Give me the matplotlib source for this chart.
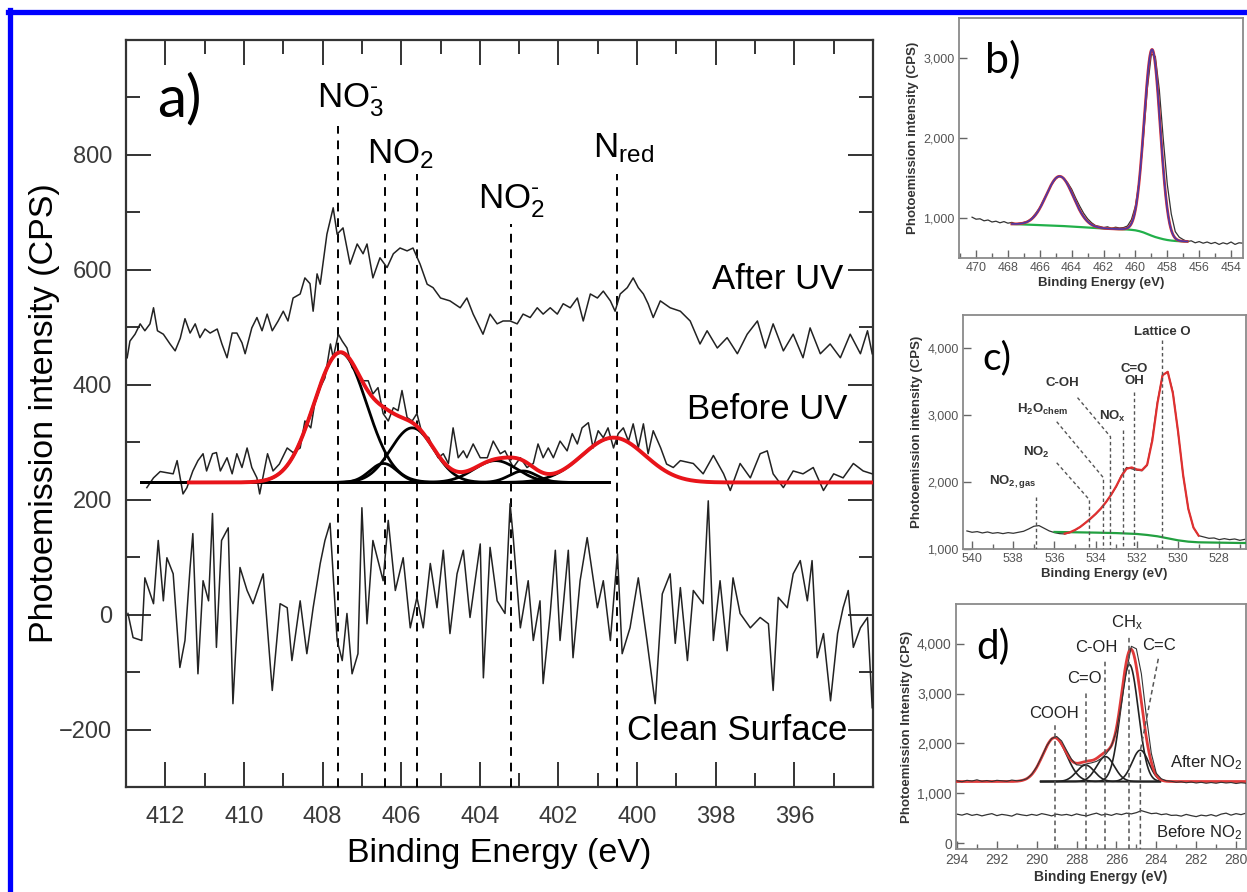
import numpy as np
import matplotlib
matplotlib.use("Agg")
import matplotlib.pyplot as plt
from matplotlib.lines import Line2D
from matplotlib.ticker import MultipleLocator, FuncFormatter

plt.rcParams['font.family'] = ['Liberation Sans', 'DejaVu Sans']
plt.rcParams['mathtext.default'] = 'regular'

W, H = 1247, 892

# ---------------- Panel a: N 1s ----------------
after_uv_e = [412.97, 412.9, 412.77, 412.64, 412.52, 412.39, 412.3, 412.2, 412.05, 411.88,
              411.75, 411.62, 411.5, 411.37, 411.24, 411.12, 410.99, 410.86, 410.68, 410.56,
              410.43, 410.3, 410.18, 410.05, 409.97, 409.8, 409.67, 409.54, 409.41, 409.28,
              409.13, 409.0, 408.88, 408.75, 408.57, 408.45, 408.32, 408.24, 408.14, 408.06,
              407.89, 407.73, 407.63, 407.48, 407.3, 407.12, 406.97, 406.87, 406.72, 406.54,
              406.36, 406.2, 406.03, 405.85, 405.7, 405.52, 405.34, 405.19, 405.0, 404.76,
              404.5, 404.33, 404.17, 403.92, 403.74, 403.56, 403.41, 403.23, 403.05, 402.9,
              402.72, 402.54, 402.39, 402.21, 402.03, 401.88, 401.7, 401.52, 401.37, 401.19,
              401.01, 400.86, 400.68, 400.56, 400.43, 400.25, 400.1, 399.97, 399.84, 399.72,
              399.59, 399.41, 399.16, 398.9, 398.65, 398.4, 398.22, 397.96, 397.71, 397.45,
              397.2, 396.94, 396.74, 396.54, 396.28, 396.03, 395.78, 395.6, 395.34, 395.09,
              394.83, 394.58, 394.32, 394.14, 394.02]
after_uv_i = [447, 476, 488, 506, 494, 506, 534, 494, 488, 471,
              459, 481, 515, 490, 506, 482, 497, 490, 497, 471,
              447, 490, 490, 473, 454, 499, 517, 494, 523, 494,
              511, 528, 511, 551, 558, 586, 576, 528, 593, 575,
              662, 708, 662, 673, 610, 645, 628, 645, 586, 621,
              604, 628, 638, 633, 638, 610, 575, 569, 551, 546,
              534, 551, 523, 488, 523, 506, 511, 511, 506, 523,
              517, 534, 523, 534, 523, 541, 534, 551, 511, 558,
              551, 563, 546, 528, 558, 569, 586, 569, 558, 541,
              517, 546, 534, 528, 511, 471, 494, 464, 482, 454,
              488, 511, 464, 506, 459, 488, 447, 499, 454, 471,
              447, 488, 454, 494, 454]

before_uv_e = [412.47, 412.3, 412.13, 411.8, 411.7, 411.55, 411.45, 411.3, 411.17, 411.04,
               410.95, 410.8, 410.7, 410.6, 410.43, 410.3, 410.18, 410.05, 409.92, 409.8,
               409.67, 409.6, 409.4, 409.26, 409.1, 408.9, 408.75, 408.57, 408.45, 408.3,
               408.2, 408.06, 407.94, 407.8, 407.73, 407.6, 407.5, 407.38, 407.25, 407.1,
               406.97, 406.84, 406.72, 406.59, 406.46, 406.33, 406.2, 406.08, 405.98, 405.85,
               405.72, 405.6, 405.47, 405.3, 405.19, 405.06, 404.93, 404.8, 404.68, 404.55,
               404.42, 404.33, 404.17, 403.99, 403.81, 403.66, 403.48, 403.36, 403.15, 402.97,
               402.8, 402.64, 402.52, 402.39, 402.26, 402.13, 401.96, 401.78, 401.65, 401.52,
               401.4, 401.24, 401.12, 400.99, 400.86, 400.74, 400.6, 400.48, 400.35, 400.22,
               400.1, 399.97, 399.84, 399.72, 399.59, 399.4, 399.25, 399.08, 398.9, 398.57,
               398.32, 398.06, 397.8, 397.63, 397.38, 397.12, 396.87, 396.69, 396.54, 396.28,
               396.03, 395.78, 395.52, 395.26, 395.0, 394.76, 394.5, 394.25, 394.02]
before_uv_i = [221, 238, 249, 245, 268, 210, 221, 250, 268, 280,
               250, 280, 282, 250, 273, 245, 280, 256, 290, 256,
               238, 210, 280, 250, 262, 290, 282, 290, 337, 325,
               367, 395, 412, 471, 447, 488, 476, 464, 430, 419,
               407, 407, 384, 395, 350, 337, 360, 355, 390, 343,
               337, 350, 315, 308, 290, 273, 280, 263, 325, 273,
               285, 273, 297, 273, 273, 302, 280, 285, 256, 273,
               256, 263, 297, 273, 290, 273, 302, 285, 315, 297,
               325, 334, 290, 320, 308, 325, 290, 315, 325, 302,
               332, 290, 332, 280, 320, 290, 262, 256, 268, 263,
               245, 277, 245, 216, 263, 238, 280, 285, 245, 221,
               250, 245, 256, 216, 245, 238, 263, 250, 245]

clean_e = [412.95, 412.82, 412.6, 412.52, 412.3, 412.18, 412.05, 411.96, 411.8, 411.63,
           411.5, 411.37, 411.3, 411.17, 411.04, 410.9, 410.8, 410.7, 410.57, 410.4,
           410.28, 410.1, 409.92, 409.77, 409.51, 409.28, 409.08, 408.9, 408.78, 408.57,
           408.4, 408.24, 408.06, 407.94, 407.81, 407.63, 407.5, 407.38, 407.25, 407.1,
           407.0, 406.87, 406.72, 406.46, 406.33, 406.15, 405.95, 405.77, 405.6, 405.44,
           405.26, 405.09, 404.93, 404.76, 404.58, 404.42, 404.25, 403.99, 403.91, 403.74,
           403.56, 403.36, 403.23, 403.15, 402.97, 402.77, 402.64, 402.47, 402.39, 402.21,
           402.08, 401.96, 401.75, 401.63, 401.45, 401.27, 401.01, 400.86, 400.68, 400.5,
           400.38, 400.18, 399.97, 399.75, 399.54, 399.36, 399.16, 399.03, 398.9, 398.72,
           398.57, 398.32, 398.19, 398.06, 397.89, 397.71, 397.56, 397.38, 397.12, 396.87,
           396.66, 396.54, 396.41, 396.18, 396.03, 395.85, 395.67, 395.55, 395.42, 395.26,
           395.08, 394.9, 394.76, 394.63, 394.5, 394.32, 394.14, 394.02]
clean_i = [2, -40, -45, 64, 19, 129, 24, 99, 71, -92,
           -45, 82, 141, -103, 59, 24, 176, -57, 129, 151,
           -155, 82, 42, 19, 71, -132, 19, 12, -80, 24,
           -68, 12, 89, 129, 159, -45, -80, 2, -103, -68,
           186, -16, 129, 59, 164, 42, 99, -23, 30, -23,
           89, 12, 112, -33, 71, 112, -5, 123, -110, 117,
           24, 2, 193, 134, -23, 59, -45, 24, -120, 2,
           112, -45, 112, -75, 59, 134, 12, 59, -45, 106,
           -68, -23, 64, -45, -155, 36, 71, -50, 47, -80,
           42, 19, 198, -45, 59, -63, 64, 2, -23, -5,
           -16, -132, 30, 12, 71, 94, 24, 94, -75, -33,
           -150, -33, 12, 42, -57, -23, -5, -162]

# Fitted N 1s components (centre eV, height CPS, sigma eV) on a flat background
n1s_background = 230
n1s_peaks = [(407.55, 226, 0.67), (406.45, 33, 0.35), (405.72, 95, 0.55),
             (403.60, 38, 0.55), (402.90, 20, 0.35), (400.60, 78, 0.80)]
n1s_marker_e = [407.6, 406.4, 405.6, 403.2, 400.5]
n1s_marker_top = [850, 767, 767, 680, 767]


def gauss(e, c, h, s):
    return h * np.exp(-(e - c) ** 2 / (2 * s ** 2))


fig = plt.figure(figsize=(W / 100, H / 100), dpi=100)


def frac_box(x0, y0, x1, y1):
    return [x0 / W, 1 - y1 / H, (x1 - x0) / W, (y1 - y0) / H]


axa = fig.add_axes(frac_box(126, 40, 873, 787))
axa.set_xlim(413, 394)
axa.set_ylim(-300, 1000)

grey = '#333333'
axa.plot(after_uv_e, after_uv_i, color='#222222', lw=1.1, zorder=4)
axa.plot(clean_e, clean_i, color='#222222', lw=1.1, zorder=4)
axa.plot(before_uv_e, before_uv_i, color='#222222', lw=1.1, zorder=4)

e_comp = np.linspace(412.6, 400.7, 600)
for c, h, s in n1s_peaks:
    axa.plot(e_comp, n1s_background + gauss(e_comp, c, h, s), color='black', lw=2.0, zorder=5)
e_env = np.linspace(411.4, 394.0, 800)
env = n1s_background + sum(gauss(e_env, c, h, s) for c, h, s in n1s_peaks)
axa.plot(e_env, env, color='#e8141a', lw=2.8, zorder=6)

for e0, top in zip(n1s_marker_e, n1s_marker_top):
    axa.plot([e0, e0], [-300, top], color='black', lw=1.4, ls=(0, (4.5, 3.5)), zorder=3)

fs_lab = 25
axa.text(407.3, 883, 'NO$_3^{\u2010}$', fontsize=fs_lab, ha='center', va='baseline')
axa.text(406.03, 786, r'NO$_2$', fontsize=fs_lab, ha='center', va='baseline')
axa.text(403.2, 706, 'NO$_2^{\u2010}$', fontsize=fs_lab, ha='center', va='baseline')
axa.text(400.35, 795, r'N$_{red}$', fontsize=fs_lab, ha='center', va='baseline')
axa.text(394.75, 567, 'After UV', fontsize=fs_lab, ha='right', va='baseline', zorder=7)
axa.text(394.65, 341, 'Before UV', fontsize=fs_lab, ha='right', va='baseline', zorder=7)
axa.text(394.65, -219, 'Clean Surface', fontsize=fs_lab, ha='right', va='baseline', zorder=7)
axa.text(0.072, 0.92, 'a)', transform=axa.transAxes, fontsize=42, ha='center', va='center',
         family=['Lato', 'DejaVu Sans'], color='black')

axa.xaxis.set_major_locator(MultipleLocator(2))
axa.xaxis.set_minor_locator(MultipleLocator(1))
axa.yaxis.set_major_locator(MultipleLocator(200))
axa.yaxis.set_minor_locator(MultipleLocator(100))
axa.set_yticks([-200, 0, 200, 400, 600, 800])
axa.set_yticklabels(['\u2212200', '0', '200', '400', '600', '800'])
axa.set_xticks([412, 410, 408, 406, 404, 402, 400, 398, 396])
axa.tick_params(which='both', direction='in', top=True, right=True, color=grey,
                labelcolor='#3a3a3a', labelsize=17)
axa.tick_params(which='major', length=18, width=1.4)
axa.tick_params(which='minor', length=10, width=1.4)
axa.tick_params(axis='x', pad=14)
axa.tick_params(axis='y', pad=10)
for sp in axa.spines.values():
    sp.set_linewidth(1.6)
    sp.set_color(grey)
axa.set_xlabel('Binding Energy (eV)', fontsize=24.5)
axa.set_ylabel('Photoemission intensity (CPS)', fontsize=24.5)
axa.xaxis.set_label_coords(0.5, -0.068)
axa.yaxis.set_label_coords(-0.088, 0.5)

# ---------------- Panel b: Ti 2p ----------------
ti_start, ti_step = 470.25, 0.25
ti_data = [1010, 985, 990, 965, 975, 950, 960, 940, 955, 935, 945, 925, 935, 945, 960, 1000,
           1060, 1130, 1230, 1320, 1420, 1490, 1525, 1500, 1440, 1360, 1250, 1150, 1060, 990,
           940, 905, 895, 880, 890, 870, 885, 875, 880, 900, 980, 1150, 1480, 2000, 2620, 3050,
           3020, 2600, 1980, 1420, 1050, 830, 760, 730, 705, 715, 690, 705, 685, 700, 680, 695,
           670, 690, 675, 700, 670, 690, 685]
ti_bg_start = 467.75
ti_bg = [925, 923, 921, 919, 917, 915, 913, 911, 909, 907, 905, 903, 901, 899, 896, 893,
         890, 887, 884, 881, 878, 875, 872, 869, 867, 865, 863, 861, 859, 856, 852, 846,
         835, 820, 800, 780, 762, 748, 735, 725, 718, 713, 710, 708, 707]
ti_peaks = [(464.75, 620, 0.85), (458.95, 2330, 0.50)]

axb = fig.add_axes(frac_box(959, 18, 1243, 258))
e_ti = ti_start - ti_step * np.arange(len(ti_data))
e_tibg = ti_bg_start - ti_step * np.arange(len(ti_bg))
e_fine = np.linspace(e_tibg[0], e_tibg[-1], 400)
bg_fine = np.interp(e_fine, e_tibg[::-1], np.array(ti_bg)[::-1])
ti_fit = bg_fine + sum(gauss(e_fine, c, h, s) for c, h, s in ti_peaks)
axb.plot(e_ti, ti_data, color='#333333', lw=0.9, zorder=2)
axb.plot(e_tibg, ti_bg, color='#22b04a', lw=1.6, zorder=3)
axb.plot(e_fine, ti_fit, color='#e03030', lw=2.0, zorder=4)
axb.plot(e_fine, ti_fit, color='#4a3aa8', lw=1.2, zorder=5)
axb.set_xlim(471.07, 453.25)
axb.set_ylim(500, 3500)
axb.text(0.155, 0.825, 'b)', transform=axb.transAxes, fontsize=31, ha='center', va='center',
         family=['Lato', 'DejaVu Sans'])

# ---------------- Panel c: O 1s ----------------
o_start, o_step = 540.25, 0.25
o_data = [1270, 1250, 1260, 1240, 1255, 1235, 1245, 1230, 1245, 1235, 1250, 1265, 1300, 1340,
          1350, 1310, 1270, 1245, 1230, 1225, 1245, 1280, 1330, 1390, 1450, 1520, 1600, 1700,
          1810, 1930, 2100, 2220, 2200, 2180, 2170, 2250, 2650, 3200, 3600, 3650, 3350, 2750,
          2100, 1600, 1320, 1200, 1180, 1160, 1165, 1140, 1155, 1140, 1150, 1130, 1145]
o_fit_start = 535.5
o_fit = [1230, 1250, 1285, 1330, 1390, 1455, 1525, 1605, 1700, 1810, 1940, 2090, 2200, 2220,
         2190, 2180, 2260, 2620, 3180, 3600, 3650, 3330, 2760, 2100, 1600, 1320, 1200]
o_bg_e = [536.0, 535.0, 534.0, 533.0, 532.0, 531.5, 531.0, 530.5, 530.0, 529.5, 529.0,
          528.0, 527.0, 526.7]
o_bg = [1255, 1250, 1245, 1238, 1225, 1210, 1190, 1160, 1130, 1110, 1100, 1095, 1090, 1090]

axc = fig.add_axes(frac_box(963, 315, 1246, 549))
e_o = o_start - o_step * np.arange(len(o_data))
e_ofit = o_fit_start - o_step * np.arange(len(o_fit))
axc.plot(e_o, o_data, color='#333333', lw=0.9, zorder=2)
axc.plot(o_bg_e, o_bg, color='#22a040', lw=1.6, zorder=3)
axc.plot(e_ofit, o_fit, color='#e03030', lw=1.6, zorder=4)
axc.set_xlim(540.44, 526.7)
axc.set_ylim(1000, 4500)

dash_c = dict(color='#555555', lw=1.0, ls=(0, (2.5, 2)), zorder=5)
# (label, label position, leader path)
o_labels = [
    (r'NO$_{2,gas}$', (538.02, 2005), [(536.9, 1780), (536.9, 1000)]),
    (r'NO$_2$', (536.86, 2440), [(535.89, 2290), (534.3, 1735), (534.3, 1000)]),
    (r'H$_2$O$_{chem}$', (536.57, 3084), [(535.89, 2904), (533.62, 2065), (533.62, 1000)]),
    ('C-OH', (535.6, 3489), [(534.88, 3264), (533.28, 2679), (533.28, 1000)]),
    (r'NO$_x$', (533.2, 2979), [(532.65, 2784), (532.65, 1000)]),
    ('C=O\nOH', (532.12, 3600), [(532.12, 3354), (532.12, 1000)]),
    ('Lattice O', (530.76, 4253), [(530.76, 4133), (530.76, 1000)]),
]
for txt, (tx, ty), path in o_labels:
    axc.text(tx, ty, txt, fontsize=9.5, fontweight='bold', color='#333333', ha='center',
             va='center', linespacing=1.0)
    xs, ys = zip(*path)
    axc.plot(xs, ys, **dash_c)
axc.text(0.12, 0.816, 'c)', transform=axc.transAxes, fontsize=28, ha='center', va='center',
         family=['Lato', 'DejaVu Sans'])

# ---------------- Panel d: C 1s ----------------
c_start, c_step = 294.0, 0.25
c_after = [1250, 1230, 1260, 1245, 1270, 1240, 1255, 1235, 1260, 1250, 1240, 1265, 1250, 1260,
           1290, 1380, 1530, 1730, 1950, 2100, 2140, 2050, 1860, 1680, 1570, 1560, 1590, 1610,
           1640, 1700, 1800, 1950, 2250, 2800, 3450, 3950, 3900, 3400, 2550, 1800, 1400, 1290,
           1250, 1240, 1220, 1230, 1210, 1225, 1205, 1220, 1200, 1215, 1200, 1220, 1205, 1215,
           1195, 1210, 1200]
c_before = [580, 560, 590, 555, 575, 545, 570, 590, 550, 575, 560, 540, 585, 565, 550, 575,
            555, 590, 570, 545, 580, 560, 575, 550, 585, 560, 545, 575, 600, 560, 580, 555,
            590, 570, 600, 585, 610, 650, 620, 590, 600, 570, 585, 555, 560, 540, 575, 550,
            530, 560, 545, 570, 540, 580, 600, 560, 590, 570, 600]
c1s_background = 1235
c1s_names = ['COOH', 'C=O', 'C-OH', r'CH$_x$', 'C=C']
c1s_peaks = [(289.10, 880, 0.60), (287.55, 330, 0.45), (286.55, 500, 0.45),
             (285.35, 2350, 0.45), (284.80, 630, 0.42)]

axd = fig.add_axes(frac_box(956, 604, 1246, 849))
e_c = c_start - c_step * np.arange(len(c_after))
axd.plot(e_c, c_before, color='#333333', lw=0.9, zorder=2)
e_cc = np.linspace(289.8, 283.8, 400)
for c, h, s in c1s_peaks:
    axd.plot(e_cc, c1s_background + gauss(e_cc, c, h, s), color='#222222', lw=1.2, zorder=3)
e_cf = np.linspace(294.0, 279.5, 800)
c_fit = c1s_background + sum(gauss(e_cf, c, h, s) for c, h, s in c1s_peaks)
axd.plot(e_cf, c_fit, color='#e03a3a', lw=2.0, zorder=4)
axd.plot(e_c, c_after, color='#333333', lw=0.8, zorder=5)
axd.set_xlim(294.05, 279.5)
axd.set_ylim(-120, 4800)

dash_d = dict(color='#555555', lw=1.1, ls=(0, (3, 2.2)), zorder=6)
c1s_label_pos = [(289.15, 2600), (287.6, 3300), (287.0, 3920), (285.45, 4420), (283.85, 3960)]
c1s_leader_top = [2400, 3020, 3700, 4160, None]
for (c, h, s), name, (tx, ty), top in zip(c1s_peaks, c1s_names, c1s_label_pos, c1s_leader_top):
    axd.text(tx, ty, name, fontsize=12, color='#222222', ha='center', va='center')
    if top is not None:
        axd.plot([c, c], [-120, top], **dash_d)
axd.plot([283.9, 284.8, 284.8], [3700, 1860, -120], **dash_d)
axd.text(279.65, 1620, r'After NO$_2$', fontsize=12, color='#222222', ha='right', va='center')
axd.text(279.65, 200, r'Before NO$_2$', fontsize=12, color='#222222', ha='right', va='center')
axd.text(0.127, 0.824, 'd)', transform=axd.transAxes, fontsize=29, ha='center', va='center',
         family=['Lato', 'DejaVu Sans'])

# ---------------- shared styling of the small panels ----------------
comma = FuncFormatter(lambda v, p: f'{v:,.0f}')
for ax, yt, lab in [(axb, [1000, 2000, 3000], 'Photoemission intensity (CPS)'),
                    (axc, [1000, 2000, 3000, 4000], 'Photoemission intensity (CPS)'),
                    (axd, [0, 1000, 2000, 3000, 4000], 'Photoemission Intensity (CPS)')]:
    ax.xaxis.set_major_locator(MultipleLocator(2))
    ax.xaxis.set_minor_locator(MultipleLocator(1))
    ax.set_yticks(yt)
    ax.yaxis.set_major_formatter(comma)
    ax.tick_params(which='both', direction='in', color='#666666', labelcolor='#555555',
                   labelsize=9 if ax is not axd else 10, pad=3)
    ax.tick_params(which='major', length=6, width=1.0)
    ax.tick_params(which='minor', length=3.5, width=1.0)
    for sp in ax.spines.values():
        sp.set_color('#8a8a8a')
        sp.set_linewidth(1.3)
    ax.set_xlabel('Binding Energy (eV)', fontsize=9.5 if ax is not axd else 10,
                  fontweight='bold', color='#333333', labelpad=2)
    ax.set_ylabel(lab, fontsize=9.5, fontweight='bold', color='#333333', labelpad=3)

# frame along the top and left edges
fig.add_artist(Line2D([8 / W, 1], [1 - 11.5 / H, 1 - 11.5 / H], color='#0000ff', lw=3.8))
fig.add_artist(Line2D([10 / W, 10 / W], [0, 1 - 9.5 / H], color='#0000ff', lw=3.8))

fig.savefig('out.png', dpi=100)
